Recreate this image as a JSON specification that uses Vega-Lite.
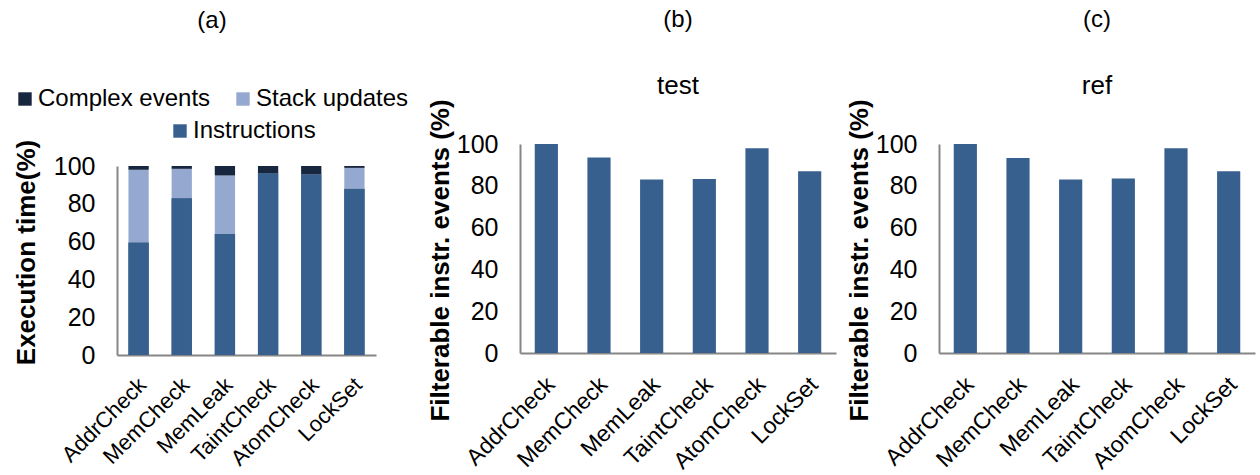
{
  "$schema": "https://vega.github.io/schema/vega-lite/v6.json",
  "padding": {"left": 13, "top": 7, "right": 4, "bottom": 0},
  "background": "white",
  "config": {
    "font": "Liberation Sans",
    "view": {"stroke": null},
    "axis": {"labelFont": "Liberation Sans", "titleFont": "Liberation Sans", "labelColor": "black", "titleColor": "black", "domainColor": "#868686", "domainWidth": 2, "ticks": false, "grid": false},
    "legend": {"labelFont": "Liberation Sans", "labelColor": "black", "labelLimit": 400},
    "title": {"font": "Liberation Sans", "fontWeight": "normal", "fontSize": 24, "color": "black", "subtitleFont": "Liberation Sans", "subtitleColor": "black", "subtitleFontSize": 26},
    "concat": {"spacing": 10}
  },
  "datasets": {
    "a": [
      {"app": "AddrCheck", "series": "Instructions", "k": 1, "value": 59.5},
      {"app": "AddrCheck", "series": "Stack updates", "k": 2, "value": 38.5},
      {"app": "AddrCheck", "series": "Complex events", "k": 3, "value": 2},
      {"app": "MemCheck", "series": "Instructions", "k": 1, "value": 83},
      {"app": "MemCheck", "series": "Stack updates", "k": 2, "value": 15.5},
      {"app": "MemCheck", "series": "Complex events", "k": 3, "value": 1.5},
      {"app": "MemLeak", "series": "Instructions", "k": 1, "value": 64},
      {"app": "MemLeak", "series": "Stack updates", "k": 2, "value": 31},
      {"app": "MemLeak", "series": "Complex events", "k": 3, "value": 5},
      {"app": "TaintCheck", "series": "Instructions", "k": 1, "value": 96},
      {"app": "TaintCheck", "series": "Stack updates", "k": 2, "value": 0},
      {"app": "TaintCheck", "series": "Complex events", "k": 3, "value": 4},
      {"app": "AtomCheck", "series": "Instructions", "k": 1, "value": 95.5},
      {"app": "AtomCheck", "series": "Stack updates", "k": 2, "value": 0},
      {"app": "AtomCheck", "series": "Complex events", "k": 3, "value": 4.5},
      {"app": "LockSet", "series": "Instructions", "k": 1, "value": 88},
      {"app": "LockSet", "series": "Stack updates", "k": 2, "value": 11},
      {"app": "LockSet", "series": "Complex events", "k": 3, "value": 1}
    ],
    "test": [
      {"app": "AddrCheck", "value": 100},
      {"app": "MemCheck", "value": 93.5},
      {"app": "MemLeak", "value": 83},
      {"app": "TaintCheck", "value": 83.2},
      {"app": "AtomCheck", "value": 98},
      {"app": "LockSet", "value": 87}
    ],
    "ref": [
      {"app": "AddrCheck", "value": 100},
      {"app": "MemCheck", "value": 93.3},
      {"app": "MemLeak", "value": 83},
      {"app": "TaintCheck", "value": 83.5},
      {"app": "AtomCheck", "value": 98},
      {"app": "LockSet", "value": 87}
    ]
  },
  "hconcat": [
    {
      "title": {"text": "(a)", "frame": "group", "anchor": "middle", "dx": -55, "offset": 106},
      "width": 300,
      "height": 211,
      "data": {"name": "a"},
      "encoding": {
        "x": {"field": "app", "type": "nominal", "sort": ["AddrCheck", "MemCheck", "MemLeak", "TaintCheck", "AtomCheck", "LockSet"], "scale": {"range": [0, 259], "paddingInner": 0.53, "paddingOuter": 0.265}, "axis": {"title": null, "labelAngle": -45, "labelFontSize": 22, "labelPadding": 19, "labelOffset": -3}},
        "y": {"field": "value", "type": "quantitative", "scale": {"domain": [0, 100], "range": [211, 22]}, "axis": {"title": "Execution time(%)", "values": [0, 20, 40, 60, 80, 100], "labelFontSize": 25, "labelPadding": 22, "titleFontSize": 26, "titleFontWeight": "bold", "titlePadding": 14, "titleY": 108}}
      },
      "layer": [
        {
          "mark": {"type": "bar"},
          "encoding": {
            "color": {"field": "series", "type": "nominal", "scale": {"domain": ["Complex events", "Stack updates", "Instructions"], "range": ["#17273F", "#95A9D0", "#38608F"]}, "legend": {"values": ["Complex events", "Stack updates"], "orient": "none", "legendX": -104, "legendY": -57, "direction": "horizontal", "title": null, "labelFontSize": 24, "symbolType": "square", "symbolSize": 180, "symbolStrokeWidth": 0, "columnPadding": 20, "labelOffset": 1}},
            "order": {"field": "k", "type": "quantitative"}
          }
        },
        {
          "transform": [{"filter": "datum.series === 'Instructions'"}],
          "mark": {"type": "bar"},
          "encoding": {
            "fill": {"field": "series", "type": "nominal", "scale": {"domain": ["Instructions"], "range": ["#38608F"]}, "legend": {"orient": "none", "legendX": 51, "legendY": -25, "direction": "horizontal", "title": null, "labelFontSize": 24, "symbolType": "square", "symbolSize": 180, "symbolStrokeWidth": 0, "labelOffset": 1}}
          }
        }
      ]
    },
    {
      "title": {"text": "(b)", "subtitle": "test", "frame": "group", "anchor": "middle", "subtitlePadding": 41, "offset": 0},
      "width": 316,
      "height": 209,
      "data": {"name": "test"},
      "mark": {"type": "bar", "color": "#38608F"},
      "encoding": {
        "x": {"field": "app", "type": "nominal", "sort": ["AddrCheck", "MemCheck", "MemLeak", "TaintCheck", "AtomCheck", "LockSet"], "scale": {"paddingInner": 0.56, "paddingOuter": 0.28}, "axis": {"title": null, "labelAngle": -45, "labelFontSize": 23, "labelPadding": 20, "labelOffset": -3}},
        "y": {"field": "value", "type": "quantitative", "scale": {"domain": [0, 100]}, "axis": {"title": "Filterable instr. events (%)", "values": [0, 20, 40, 60, 80, 100], "labelFontSize": 25, "labelPadding": 22, "titleFontSize": 26, "titleFontWeight": "bold", "titlePadding": 3, "titleY": 116}}
      }
    },
    {
      "title": {"text": "(c)", "subtitle": "ref", "frame": "group", "anchor": "middle", "subtitlePadding": 41, "offset": 0},
      "width": 316,
      "height": 209,
      "data": {"name": "ref"},
      "mark": {"type": "bar", "color": "#38608F"},
      "encoding": {
        "x": {"field": "app", "type": "nominal", "sort": ["AddrCheck", "MemCheck", "MemLeak", "TaintCheck", "AtomCheck", "LockSet"], "scale": {"paddingInner": 0.56, "paddingOuter": 0.28}, "axis": {"title": null, "labelAngle": -45, "labelFontSize": 23, "labelPadding": 20, "labelOffset": -3}},
        "y": {"field": "value", "type": "quantitative", "scale": {"domain": [0, 100]}, "axis": {"title": "Filterable instr. events (%)", "values": [0, 20, 40, 60, 80, 100], "labelFontSize": 25, "labelPadding": 22, "titleFontSize": 26, "titleFontWeight": "bold", "titlePadding": 3, "titleY": 116}}
      }
    }
  ]
}
